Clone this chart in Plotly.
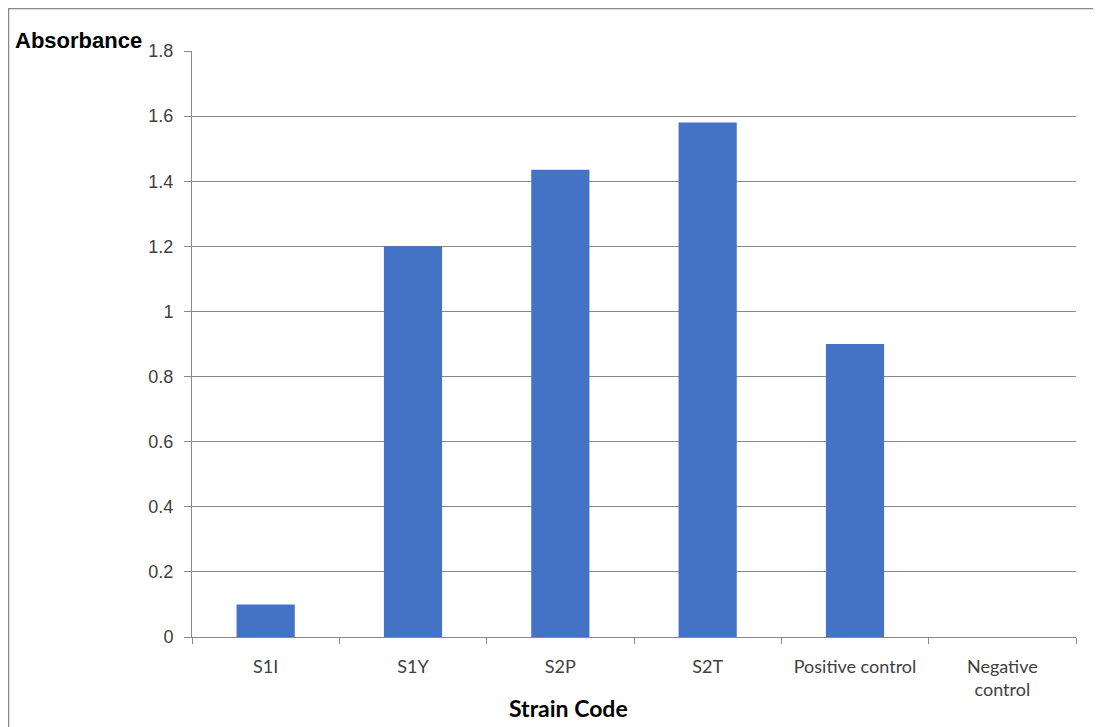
import plotly.graph_objects as go

categories = ["S1I", "S1Y", "S2P", "S2T", "Positive control", "Negative<br>control"]
absorbance = [0.10, 1.20, 1.435, 1.58, 0.90, 0.0]
y_ticks = [0, 0.2, 0.4, 0.6, 0.8, 1.0, 1.2, 1.4, 1.6, 1.8]
y_tick_text = ["0", "0.2", "0.4", "0.6", "0.8", "1", "1.2", "1.4", "1.6", "1.8"]

OFF = 8  # page body margin
W, H = 1093, 719
L, R, T, B = 184, 25, 43, 90
pw, ph = W - L - R, H - T - B

def px(x):
    return (x - OFF - L) / pw

def py(y):
    return (H - B - (y - OFF)) / ph

fig = go.Figure(go.Bar(
    x=categories, y=absorbance, marker=dict(color="#4472C4", line=dict(width=0)),
    width=0.395,
))

fig.update_layout(
    width=W, height=H, margin=dict(l=L, r=R, t=T, b=B),
    plot_bgcolor="white", paper_bgcolor="white", showlegend=False,
    font=dict(family="Liberation Sans, Arial", size=13, color="#404040"),
    xaxis=dict(
        type="category", tickson="boundaries", ticks="outside", ticklen=6,
        tickcolor="#898989", showline=True, linecolor="#898989", linewidth=1,
        showgrid=False, ticklabelstandoff=13,
        tickfont=dict(family="Lato, Carlito, sans-serif", size=18, color="#404040"),
    ),
    yaxis=dict(
        range=[0, 1.8], tickvals=y_ticks, ticktext=y_tick_text, ticks="outside", ticklen=7,
        tickcolor="#898989", showline=True, linecolor="#898989", linewidth=1,
        showgrid=True, gridcolor="#898989", gridwidth=1, zeroline=False,
        ticklabelstandoff=7,
        tickfont=dict(family="Liberation Sans, Arial", size=18, color="#404040"),
    ),
    annotations=[
        dict(text="<b>Absorbance</b>", x=px(13), y=py(41), xref="paper", yref="paper",
             xanchor="left", yanchor="middle", showarrow=False,
             font=dict(family="Liberation Sans, Arial", size=22, color="#000000")),
        dict(text="<b>Strain Code</b>", x=px(568), y=py(708), xref="paper", yref="paper",
             xanchor="center", yanchor="middle", showarrow=False,
             font=dict(family="Lato, Carlito, sans-serif", size=23, color="#000000")),
    ],
    shapes=[
        dict(type="rect", xref="paper", yref="paper", x0=px(8.5), x1=px(1130), y0=py(760), y1=py(8.5),
             line=dict(color="#898989", width=1.5), fillcolor="rgba(0,0,0,0)", layer="below"),
    ],
)

fig.write_html("out.html")
